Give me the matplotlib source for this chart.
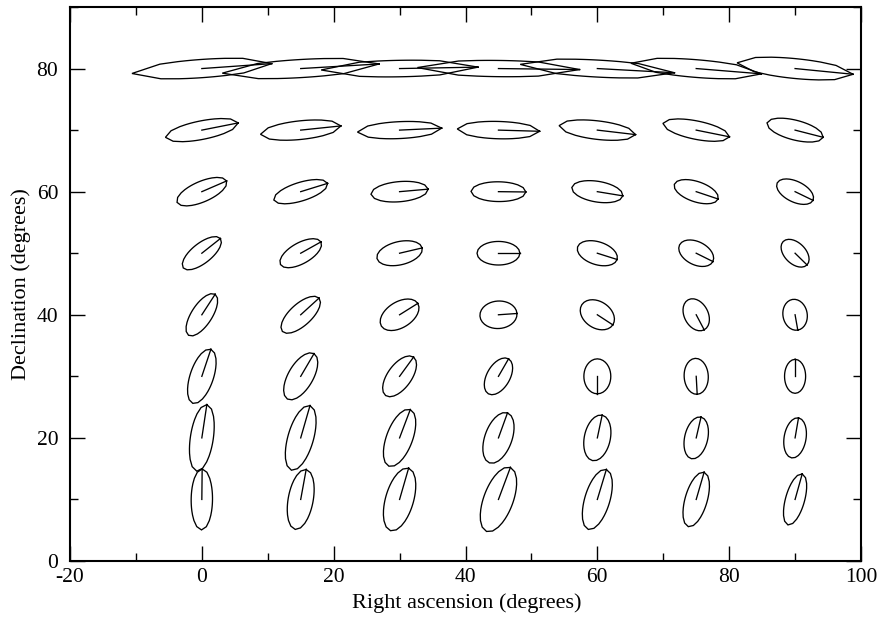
import numpy as np
import matplotlib
matplotlib.use("Agg")
import matplotlib.pyplot as plt
from matplotlib.ticker import MultipleLocator

plt.rcParams['font.family'] = ['Liberation Serif', 'DejaVu Serif']
plt.rcParams['axes.unicode_minus'] = False

# ---- data -------------------------------------------------------------
ra_centers = [0, 15, 30, 45, 60, 75, 90]            # degrees
dec_centers = [10, 20, 30, 40, 50, 60, 70, 80]      # degrees

# offset (in data degrees) from the centre to the tip of the drawn semi-major axis
tip_dra = [
    [0.05, 0.83, 1.37, 1.81, 1.37, 1.20, 1.08],     # dec 10
    [0.76, 1.41, 1.62, 1.37, 0.73, 0.73, 0.52],     # dec 20
    [1.37, 2.02, 2.12, 1.53, 0.00, 0.15, 0.00],     # dec 30
    [2.02, 2.78, 2.76, 2.81, 2.35, 1.21, 0.41],     # dec 40
    [2.82, 3.07, 3.43, 3.25, 3.00, 2.53, 1.81],     # dec 50
    [3.76, 4.08, 4.34, 4.16, 3.87, 3.32, 2.72],     # dec 60
    [5.52, 6.10, 6.39, 6.25, 5.80, 5.05, 4.26],     # dec 70
    [10.6, 11.9, 11.9, 12.3, 11.7, 9.9, 8.8],       # dec 80
]
tip_ddec = [
    [4.95, 4.87, 5.08, 5.20, 4.87, 4.42, 4.14],
    [5.41, 5.25, 4.60, 4.06, 3.69, 3.38, 3.25],
    [4.39, 3.69, 3.12, 2.84, -2.84, -2.92, 2.76],
    [3.33, 2.71, 1.85, 0.21, -1.64, -2.44, -2.49],
    [2.39, 1.84, 0.86, 0.00, -1.02, -1.35, -1.90],
    [1.74, 1.35, 0.41, -0.05, -0.68, -1.19, -1.41],
    [1.17, 0.68, 0.32, -0.19, -0.73, -1.09, -1.17],
    [0.80, 0.75, 0.23, -0.16, -0.68, -0.86, -0.93],
]
# minor / major axis ratio
axis_ratio = [
    [0.35, 0.41, 0.43, 0.43, 0.40, 0.39, 0.36],
    [0.34, 0.38, 0.43, 0.51, 0.56, 0.54, 0.54],
    [0.41, 0.47, 0.50, 0.57, 0.77, 0.67, 0.62],
    [0.42, 0.44, 0.60, 0.74, 0.72, 0.70, 0.78],
    [0.42, 0.45, 0.50, 0.55, 0.55, 0.62, 0.63],
    [0.38, 0.33, 0.35, 0.36, 0.40, 0.44, 0.52],
    [0.25, 0.23, 0.20, 0.21, 0.24, 0.27, 0.34],
    [0.13, 0.115, 0.105, 0.10, 0.11, 0.135, 0.17],
]

x_ticks = [-20, 0, 20, 40, 60, 80, 100]
y_ticks = [0, 20, 40, 60, 80]

# ---- figure -----------------------------------------------------------
W, H = 882, 618
fig = plt.figure(figsize=(W / 100, H / 100), dpi=100)
ax = fig.add_axes([70 / W, 1 - 561 / H, 791 / W, 554 / H])
ax.set_xlim(-20, 100)
ax.set_ylim(0, 90)

T = ax.transData
Tinv = T.inverted()
phi = np.radians(np.arange(0, 361, 10))
lw = 0.95
for i, dec in enumerate(dec_centers):
    for j, ra in enumerate(ra_centers):
        dra, ddec, q = tip_dra[i][j], tip_ddec[i][j], axis_ratio[i][j]
        c = T.transform((ra, dec))
        t = T.transform((ra + dra, dec + ddec))
        u = t - c
        a = np.hypot(u[0], u[1])
        ang = np.arctan2(u[1], u[0])
        b = q * a
        r = a * b / np.sqrt((b * np.cos(phi)) ** 2 + (a * np.sin(phi)) ** 2)
        pts = np.column_stack([c[0] + r * np.cos(phi + ang),
                               c[1] + r * np.sin(phi + ang)])
        d = Tinv.transform(pts)
        ax.plot(d[:, 0], d[:, 1], color='black', lw=lw, solid_joinstyle='miter')
        ax.plot([ra, ra + dra], [dec, dec + ddec], color='black', lw=lw)

ax.set_xticks(x_ticks)
ax.set_xticklabels([str(v) for v in x_ticks])
ax.set_yticks(y_ticks)
ax.set_yticklabels([str(v) for v in y_ticks])
ax.xaxis.set_minor_locator(MultipleLocator(10))
ax.yaxis.set_minor_locator(MultipleLocator(10))
ax.tick_params(which='both', direction='in', top=True, right=True, width=1.0,
               colors='black')
ax.tick_params(which='major', length=10.8)
ax.tick_params(which='minor', length=5.5)
ax.tick_params(axis='x', which='major', labelsize=15.5, pad=5)
ax.tick_params(axis='y', which='major', labelsize=15.5, pad=8.5)
for s in ax.spines.values():
    s.set_linewidth(1.5)

fig.text(467 / W, 1 - 603 / H, 'Right ascension (degrees)', ha='center',
         va='center', fontsize=16)
fig.text(21 / W, 1 - 284 / H, 'Declination (degrees)', ha='center',
         va='center', rotation=90, fontsize=16)

fig.savefig('out.png', dpi=100)
